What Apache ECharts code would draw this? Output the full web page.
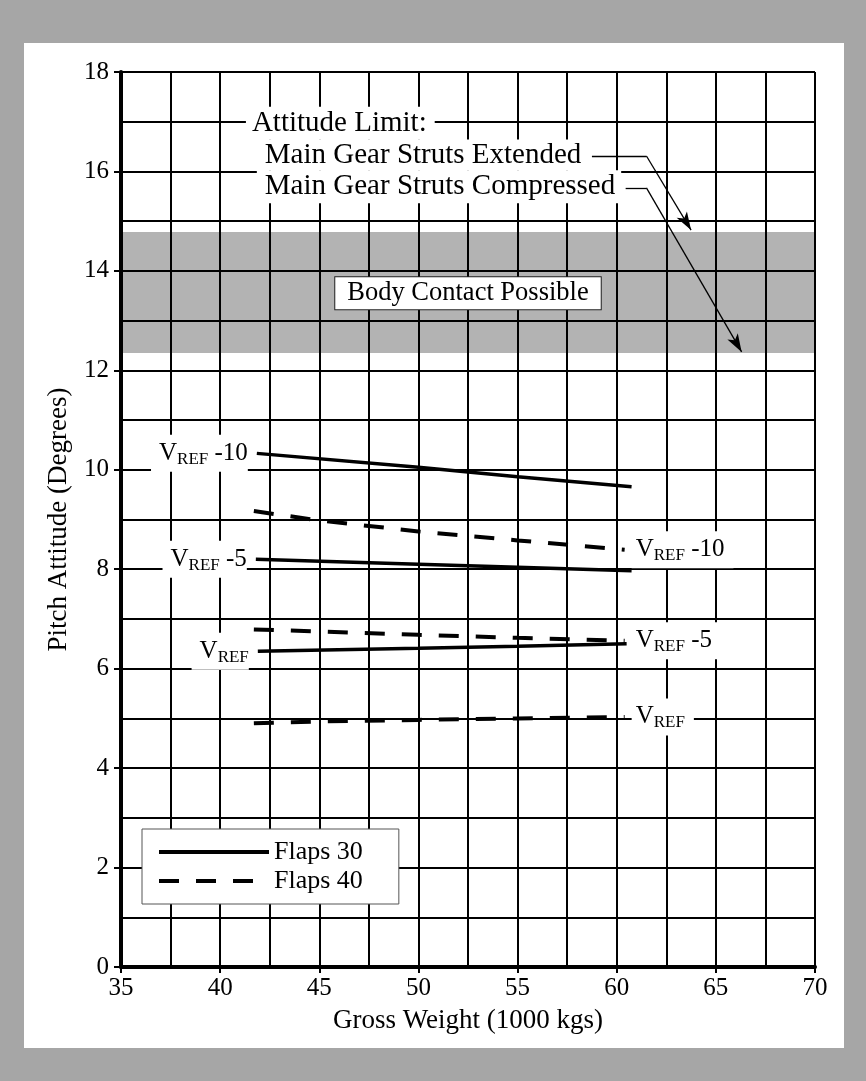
<!DOCTYPE html>
<html>
<head>
<meta charset="utf-8">
<script src="https://cdn.jsdelivr.net/npm/echarts@6/dist/echarts.min.js"></script>
<style>
    html, body {margin: 0; padding: 0; background: #a6a6a6;}
    #panel {position: absolute; left: 24px; top: 43px; width: 820px; height: 1005px; background: #fff;}
    #chart {position: absolute; left: 0; top: 0; width: 866px; height: 1081px;}
</style>
</head>
<body>
<div id="panel"></div>
<div id="chart"></div>
<script>
    // gross weight (1000 kg) vs pitch attitude (deg)
    const flaps30Vref10 = [[41.85, 10.33], [50, 10.05], [55, 9.86], [60.75, 9.66]];
    const flaps30Vref5 = [[41.8, 8.2], [50, 8.1], [55, 8.04], [60.75, 7.97]];
    const flaps30Vref = [[41.9, 6.35], [50, 6.41], [55, 6.45], [60.5, 6.5]];
    const flaps40Vref10 = [[41.7, 9.17], [45, 8.98], [50, 8.76], [55, 8.58], [60.4, 8.39]];
    const flaps40Vref5 = [[41.7, 6.79], [50, 6.68], [55, 6.62], [60.4, 6.56]];
    const flaps40Vref = [[41.7, 4.9], [45, 4.94], [50, 4.97], [55, 5.0], [60.4, 5.03]];

    const bodyContactBand = [12.35, 14.78];
    const speedLabels = ['-10', '-5', ''];

    const FONT = 'Liberation Serif';
    const chart = echarts.init(document.getElementById('chart'));

    function curve(name, data, dashed) {
        return {
            name: name,
            type: 'line',
            data: data,
            symbol: 'none',
            z: 5,
            silent: true,
            lineStyle: {color: '#000', width: dashed ? 4 : 3.5, type: dashed ? [20, 17] : 'solid', cap: 'butt'},
            itemStyle: {color: '#000'}
        };
    }

    const tickText = {fontFamily: FONT, fontSize: 25, color: '#000'};
    const nameText = {fontFamily: FONT, fontSize: 27, color: '#000'};

    chart.setOption({
        animation: false,
        grid: {left: 121, right: 51, top: 72, bottom: 114},
        legend: {
            data: ['Flaps 30', 'Flaps 40'],
            selectedMode: false,
            orient: 'vertical',
            left: 142,
            top: 829,
            padding: [10, 36, 10, 15],
            itemGap: 3,
            itemWidth: 110,
            itemHeight: 20,
            backgroundColor: '#fff',
            borderColor: '#555',
            borderWidth: 1,
            itemStyle: {opacity: 0},
            lineStyle: {width: 4},
            textStyle: {fontFamily: FONT, fontSize: 26, color: '#000'}
        },
        xAxis: {
            type: 'value', min: 35, max: 70, interval: 5, z: 3,
            name: 'Gross Weight (1000 kgs)', nameLocation: 'middle', nameGap: 40,
            nameTextStyle: nameText,
            axisLine: {onZero: false, lineStyle: {color: '#000', width: 4}},
            axisTick: {length: 6, lineStyle: {color: '#000', width: 2}},
            axisLabel: Object.assign({margin: 9}, tickText),
            splitLine: {show: true, lineStyle: {color: '#000', width: 2}},
            minorTick: {show: false, splitNumber: 2},
            minorSplitLine: {show: true, lineStyle: {color: '#000', width: 2}}
        },
        yAxis: {
            type: 'value', min: 0, max: 18, interval: 2, z: 3,
            name: 'Pitch Attitude (Degrees)', nameLocation: 'middle', nameGap: 49, nameRotate: 90,
            nameTextStyle: nameText,
            axisLine: {show: true, onZero: false, lineStyle: {color: '#000', width: 4}},
            axisTick: {show: true, length: 7, lineStyle: {color: '#000', width: 2}},
            axisLabel: Object.assign({margin: 12}, tickText),
            splitLine: {show: true, lineStyle: {color: '#000', width: 2}},
            minorTick: {show: false, splitNumber: 2},
            minorSplitLine: {show: true, lineStyle: {color: '#000', width: 2}}
        },
        series: [
            {
                type: 'line', data: [], z: 1, silent: true,
                markArea: {
                    silent: true,
                    itemStyle: {color: '#b3b3b3'},
                    data: [[{yAxis: bodyContactBand[0]}, {yAxis: bodyContactBand[1]}]]
                }
            },
            {
                type: 'line', data: [], z: 6, silent: true,
                markLine: {
                    silent: true,
                    symbol: ['none', 'none'],
                    symbolSize: [9, 18],
                    label: {show: false},
                    lineStyle: {color: '#000', width: 1.3, type: 'solid'},
                    data: [
                        [{coord: [58.75, 16.31]}, {coord: [61.5, 16.31]}],
                        [{coord: [61.5, 16.31]}, {coord: [63.75, 14.82], symbol: 'arrow'}],
                        [{coord: [60.45, 15.67]}, {coord: [61.5, 15.67]}],
                        [{coord: [61.5, 15.67]}, {coord: [66.3, 12.37], symbol: 'arrow'}]
                    ]
                }
            },
            curve('Flaps 30', flaps30Vref10, false),
            curve('Flaps 30', flaps30Vref5, false),
            curve('Flaps 30', flaps30Vref, false),
            curve('Flaps 40', flaps40Vref10, true),
            curve('Flaps 40', flaps40Vref5, true),
            curve('Flaps 40', flaps40Vref, true)
        ]
    });

    const px = (p) => chart.convertToPixel({gridIndex: 0}, p);

    const vrefRich = {
        v: {fontFamily: FONT, fontSize: 25, color: '#000'},
        s: {fontFamily: FONT, fontSize: 17, color: '#000', padding: [12, 0, 0, 0]}
    };

    function vrefLabel(point, suffix, side) {
        const p = px(point);
        return {
            type: 'text', z: 100, silent: true,
            style: {
                text: '{v|V}{s|REF}' + (suffix ? '{v| ' + suffix + '}' : ''),
                rich: vrefRich,
                x: side === 'left' ? p[0] - 9 : p[0] + 7,
                y: p[1],
                align: side === 'left' ? 'right' : 'left',
                verticalAlign: 'middle',
                backgroundColor: '#fff',
                padding: side === 'left' ? [4, 0, 4, 8] : [4, 9, 4, 4]
            }
        };
    }

    function plainText(text, x, y, align, extra) {
        return {
            type: 'text', z: 100, silent: true,
            style: Object.assign({
                text: text, x: x, y: y, align: align, verticalAlign: 'middle',
                fontFamily: FONT, fontSize: 29, fill: '#000', backgroundColor: '#fff'
            }, extra || {})
        };
    }

    const left30 = [flaps30Vref10[0], flaps30Vref5[0], flaps30Vref[0]];
    const right40 = [flaps40Vref10[flaps40Vref10.length - 1], flaps40Vref5[flaps40Vref5.length - 1],
        flaps40Vref[flaps40Vref.length - 1]];

    const elements = [];
    speedLabels.forEach((s, i) => {
        elements.push(vrefLabel(left30[i], s, 'left'));
        elements.push(vrefLabel(right40[i], s, 'right'));
    });

    const attitude = px([41.3, 16.97]);
    elements.push(plainText('Attitude Limit:', attitude[0], attitude[1], 'left', {padding: [2, 8, 2, 6]}));
    const ext = px([41.85, 16.33]);
    elements.push(plainText('Main Gear Struts Extended', ext[0], ext[1], 'left', {padding: [1, 6, 1, 8]}));
    const comp = px([41.85, 15.69]);
    elements.push(plainText('Main Gear Struts Compressed', comp[0], comp[1], 'left', {padding: [1, 6, 3, 8]}));

    const body = px([52.5, 13.55]);
    elements.push(plainText('Body Contact Possible', body[0], body[1], 'center', {
        fontSize: 26.5, padding: [3, 12, 2, 12], borderColor: '#222', borderWidth: 1
    }));

    chart.setOption({graphic: {elements: elements}});
</script>
</body>
</html>
